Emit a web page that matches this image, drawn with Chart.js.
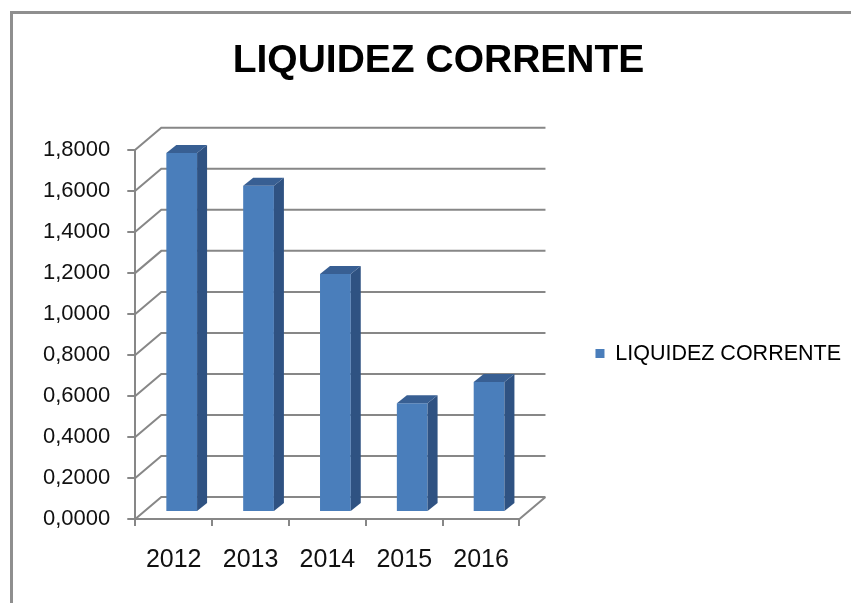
<!DOCTYPE html>
<html>
<head>
<meta charset="utf-8">
<script src="https://cdn.jsdelivr.net/npm/chart.js@4"></script>
<style>
  html, body { margin: 0; padding: 0; background: #fff; }
  #wrap { width: 851px; height: 603px; }
</style>
</head>
<body>
<div id="wrap"><canvas id="liqChart" width="851" height="603"></canvas></div>
<script>
const years = ['2012', '2013', '2014', '2015', '2016'];
const liquidez = [1.75, 1.59, 1.16, 0.53, 0.634];
const seriesName = 'LIQUIDEZ CORRENTE';

const gridGrey = '#878787';
const wallDepth = { dx: 26, dy: -22 };
const barShift = { dx: 8, dy: -7 };
const barDepth = { dx: 10, dy: -8 };

// fake 3D look: walls behind, bars with side and top faces
const threeD = {
  id: 'threeD',
  beforeDraw(chart) {
    const ctx = chart.ctx;
    ctx.save();
    ctx.fillStyle = '#fff';
    ctx.fillRect(0, 0, chart.width, chart.height);
    ctx.strokeStyle = '#8f8f8f';
    ctx.lineWidth = 3;
    ctx.beginPath();
    ctx.moveTo(11.5, chart.height);
    ctx.lineTo(11.5, 12.5);
    ctx.lineTo(chart.width, 12.5);
    ctx.stroke();
    ctx.restore();
  },
  beforeDatasetsDraw(chart) {
    const ctx = chart.ctx;
    const { left, right, bottom } = chart.chartArea;
    const y = chart.scales.y;
    ctx.save();
    ctx.strokeStyle = gridGrey;
    ctx.lineWidth = 2;
    ctx.beginPath();
    y.ticks.forEach(t => {
      const py = y.getPixelForValue(t.value);
      ctx.moveTo(left, py);
      ctx.lineTo(left + wallDepth.dx, py + wallDepth.dy);
      ctx.lineTo(right + wallDepth.dx, py + wallDepth.dy);
    });
    ctx.moveTo(right, bottom);
    ctx.lineTo(right + wallDepth.dx, bottom + wallDepth.dy);
    ctx.stroke();
    ctx.restore();
    ctx.save();
    ctx.translate(barShift.dx, barShift.dy);
  },
  afterDatasetsDraw(chart) {
    const ctx = chart.ctx;
    chart.getDatasetMeta(0).data.forEach(bar => {
      const x1 = bar.x + bar.width / 2;
      const x0 = bar.x - bar.width / 2;
      ctx.fillStyle = '#2f5282';
      ctx.beginPath();
      ctx.moveTo(x1, bar.base);
      ctx.lineTo(x1, bar.y);
      ctx.lineTo(x1 + barDepth.dx, bar.y + barDepth.dy);
      ctx.lineTo(x1 + barDepth.dx, bar.base + barDepth.dy);
      ctx.closePath();
      ctx.fill();
      ctx.fillStyle = '#385f93';
      ctx.beginPath();
      ctx.moveTo(x0, bar.y);
      ctx.lineTo(x1, bar.y);
      ctx.lineTo(x1 + barDepth.dx, bar.y + barDepth.dy);
      ctx.lineTo(x0 + barDepth.dx, bar.y + barDepth.dy);
      ctx.closePath();
      ctx.fill();
    });
    ctx.restore();
  }
};

new Chart(document.getElementById('liqChart'), {
  type: 'bar',
  data: {
    labels: years,
    datasets: [{
      label: seriesName,
      data: liquidez,
      backgroundColor: '#4a7ebb',
      borderWidth: 0,
      categoryPercentage: 1,
      barPercentage: 0.4,
      clip: false,
      yAxisID: 'y'
    }]
  },
  options: {
    responsive: false,
    animation: false,
    layout: { padding: { left: 26, right: 0, top: 0, bottom: 8 } },
    scales: {
      x: {
        grid: { drawOnChartArea: false, offset: true, tickLength: 7, color: gridGrey, lineWidth: 2 },
        border: { color: gridGrey, width: 2 },
        ticks: {
          color: '#111',
          padding: 22,
          maxRotation: 0,
          font: { family: 'Liberation Sans', size: 25, lineHeight: 1 }
        }
      },
      y: {
        min: 0,
        max: 1.8,
        grid: { drawOnChartArea: false, tickLength: 8, color: gridGrey, lineWidth: 2 },
        border: { color: gridGrey, width: 2 },
        ticks: {
          stepSize: 0.2,
          padding: 17,
          color: '#111',
          font: { family: 'Liberation Sans', size: 22 },
          callback: v => v.toFixed(4).replace('.', ',')
        }
      },
      y2: {
        position: 'right',
        grid: { display: false },
        border: { display: false },
        ticks: { display: false },
        afterFit: s => { s.width = 66; }
      }
    },
    plugins: {
      title: {
        display: true,
        text: seriesName,
        color: '#000',
        font: { family: 'Liberation Sans', size: 39, weight: 'bold' },
        padding: { top: 38, bottom: 65 }
      },
      legend: {
        position: 'right',
        fullSize: false,
        maxWidth: 320,
        title: { display: true, text: ' ', padding: { top: 0, bottom: 24 } },
        labels: {
          boxWidth: 9,
          boxHeight: 9,
          color: '#000',
          font: { family: 'Liberation Sans', size: 21.5 }
        }
      },
      tooltip: { enabled: false }
    }
  },
  plugins: [threeD]
});
</script>
</body>
</html>
